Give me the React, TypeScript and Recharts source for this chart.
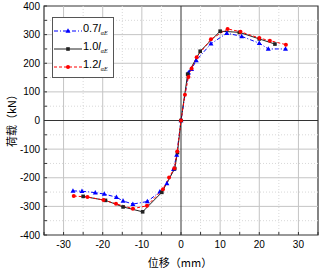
import React from 'react';
import {
  LineChart,
  Line,
  XAxis,
  YAxis,
  ReferenceLine,
  ReferenceArea,
} from 'recharts';

// displacement (mm) / load (kN) pairs
const disp07 = [-27.6, -25.3, -21.9, -19.6, -16.5, -14.8, -12.3, -8.6, -5.4, -3.6, -1.9, -1.1, 0, 1.9, 2.7, 3.9, 7.65, 11.7, 15.5, 20, 22.3, 26.7];
const load07 = [-246, -247, -252, -257, -268, -281, -292, -283, -249, -220, -170, -120, 0, 167, 179, 210, 268, 305, 294, 270, 250, 250];

const disp10 = [-25, -19.3, -14.8, -9.8, -4.9, -1.6, -0.9, 0, 1.7, 4.9, 10, 14.9, 20, 24];
const load10 = [-265, -279, -302, -319, -251, -168, -112, 0, 162, 242, 312, 308, 285, 267];

const disp12 = [-27.4, -23.9, -19.8, -16.6, -12.3, -8.7, -4.6, -3.05, -1.7, -0.95, 0, 1.0, 1.9, 2.7, 4.0, 7.65, 11.9, 15.2, 20, 22.7, 26.8];
const load12 = [-264, -267, -278, -291, -308, -298, -240, -199, -167, -108, 0, 90, 152, 182, 221, 284, 320, 310, 288, 279, 265];

const xTicks = [-35, -30, -25, -20, -15, -10, -5, 0, 5, 10, 15, 20, 25, 30, 35];
const yTicks = [-400, -350, -300, -250, -200, -150, -100, -50, 0, 50, 100, 150, 200, 250, 300, 350, 400];
const xMajor = [-30, -20, -10, 10, 20, 30];
const xMinor = [-25, -15, -5, 5, 15, 25];
const yMajor = [-300, -200, -100, 100, 200, 300];
const yMinor = [-350, -250, -150, -50, 50, 150, 250, 350];

const seriesNames = ['0.7', '1.0', '1.2'];

const toPoints = (xs: number[], ys: number[]) => xs.map((x, i) => ({ x, y: ys[i] }));

const FONT = '"Liberation Sans", Arial, sans-serif';
const CJK = '"Noto Sans CJK SC", sans-serif';

const styles = [
  { color: '#0000ff', dash: '4 2 1 2', marker: 'tri' },
  { color: '#222222', dash: undefined, marker: 'sq' },
  { color: '#ff0000', dash: '3 2', marker: 'circ' },
];

function Marker({ cx, cy, kind, color }: { cx: number; cy: number; kind: string; color: string }) {
  if (cx == null || cy == null) return null;
  if (kind === 'tri')
    return <polygon points={`${cx},${cy - 2.7} ${cx - 2.5},${cy + 1.8} ${cx + 2.5},${cy + 1.8}`} fill={color} />;
  if (kind === 'sq') return <rect x={cx - 1.8} y={cy - 1.8} width={3.6} height={3.6} fill={color} />;
  return <circle cx={cx} cy={cy} r={2} fill={color} />;
}

function LegendBox() {
  return (
    <div
      style={{
        position: 'absolute',
        left: 52,
        top: 17,
        border: '1px solid #555',
        background: '#fff',
        width: 62,
        height: 61,
        boxSizing: 'border-box',
        paddingTop: 4,
        fontFamily: FONT,
        fontSize: 11,
      }}
    >
      {seriesNames.map((name, i) => (
        <div key={name} style={{ display: 'flex', alignItems: 'center', height: 18 }}>
          <svg width={28} height={10} style={{ marginLeft: 1 }}>
            <line x1={0} y1={5} x2={28} y2={5} stroke={styles[i].color} strokeWidth={1} strokeDasharray={styles[i].dash} />
            <Marker cx={14} cy={5} kind={styles[i].marker} color={styles[i].color} />
          </svg>
          <span style={{ marginLeft: 1, whiteSpace: 'nowrap', lineHeight: '11px' }}>
            {name}
            <i>l</i>
            <sub style={{ fontStyle: 'italic', fontSize: 6, fontFamily: 'serif' }}>αE</sub>
          </span>
        </div>
      ))}
    </div>
  );
}

export default function App() {
  const sets = [toPoints(disp07, load07), toPoints(disp10, load10), toPoints(disp12, load12)];
  return (
    <div style={{ position: 'relative', width: 321, height: 270, background: '#fff' }}>
      <style>{`body{margin:0}`}</style>
      <LineChart width={321} height={270} margin={{ top: 6, right: 3, left: 0, bottom: 0 }}>
        <XAxis
          type="number"
          dataKey="x"
          domain={[-35, 35]}
          ticks={xTicks}
          interval={0}
          allowDataOverflow
          height={35}
          tickSize={-3}
          tickMargin={9}
          axisLine={false}
          tickLine={{ stroke: '#333' }}
          tick={{ fontSize: 10, fill: '#000', fontFamily: FONT }}
          tickFormatter={(v: number) => (v % 10 === 0 && Math.abs(v) < 35 ? String(v) : '')}
          label={{
            content: () => (
              <text x={180} y={267} textAnchor="middle" fontSize={11} fontFamily={CJK} fill="#000">
                位移（mm）
              </text>
            ),
          }}
        />
        <YAxis
          type="number"
          domain={[-400, 400]}
          ticks={yTicks}
          interval={0}
          allowDataOverflow
          width={44}
          tickSize={-3}
          tickMargin={7}
          axisLine={false}
          tickLine={{ stroke: '#333' }}
          tick={{ fontSize: 10, fill: '#000', fontFamily: FONT }}
          tickFormatter={(v: number) => (v % 100 === 0 ? String(v) : '')}
          label={{
            content: () => (
              <text
                x={11}
                y={118}
                transform="rotate(-90 11 118)"
                textAnchor="middle"
                dominantBaseline="central"
                fontSize={11}
                fontFamily={CJK}
                fill="#000"
              >
                荷载（kN）
              </text>
            ),
          }}
        />
        {xMinor.map((v) => (
          <ReferenceLine key={`xm${v}`} x={v} stroke="#d8d8d8" strokeDasharray="1 2" />
        ))}
        {yMinor.map((v) => (
          <ReferenceLine key={`ym${v}`} y={v} stroke="#d8d8d8" strokeDasharray="1 2" />
        ))}
        {xMajor.map((v) => (
          <ReferenceLine key={`xM${v}`} x={v} stroke="#c4c4c4" />
        ))}
        {yMajor.map((v) => (
          <ReferenceLine key={`yM${v}`} y={v} stroke="#c4c4c4" />
        ))}
        <ReferenceLine x={0} stroke="#333" />
        <ReferenceLine y={0} stroke="#333" />
        <ReferenceArea x1={-35} x2={35} y1={-400} y2={400} fill="none" stroke="#333" strokeWidth={1.2} />
        {sets.map((pts, i) => (
          <Line
            key={seriesNames[i]}
            data={pts}
            dataKey="y"
            name={seriesNames[i]}
            type="linear"
            stroke={styles[i].color}
            strokeWidth={1}
            strokeDasharray={styles[i].dash}
            isAnimationActive={false}
            dot={(p: any) => (
              <Marker key={`${i}-${p.index}`} cx={p.cx} cy={p.cy} kind={styles[i].marker} color={styles[i].color} />
            )}
            activeDot={false}
          />
        ))}
      </LineChart>
      <LegendBox />
    </div>
  );
}
